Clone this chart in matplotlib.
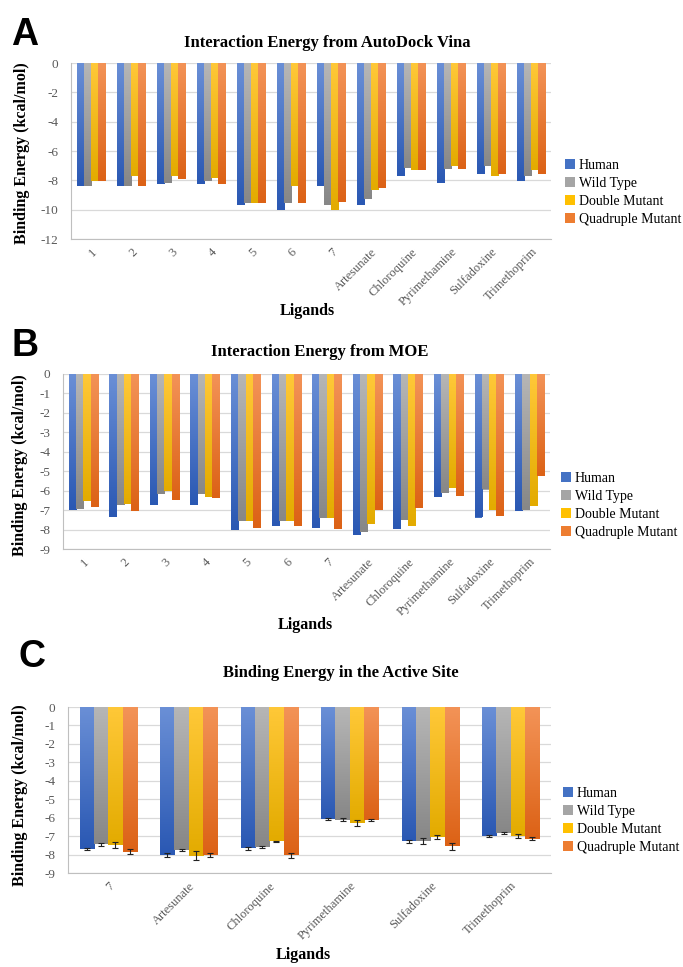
import numpy as np
import matplotlib
matplotlib.use("Agg")
import matplotlib.pyplot as plt
from matplotlib.colors import LinearSegmentedColormap

# ---- data ----
series = ["Human", "Wild Type", "Double Mutant", "Quadruple Mutant"]

ligands_ab = ["1", "2", "3", "4", "5", "6", "7", "Artesunate", "Chloroquine",
              "Pyrimethamine", "Sulfadoxine", "Trimethoprim"]

vina_human = [-8.41, -8.41, -8.25, -8.25, -9.66, -10.05, -8.36, -9.66, -7.68, -8.16, -7.55, -8.02]
vina_wild = [-8.36, -8.36, -8.16, -8.02, -9.52, -9.52, -9.66, -9.25, -7.14, -7.23, -7.05, -7.68]
vina_double = [-8.02, -7.68, -7.73, -7.86, -9.52, -8.36, -10.05, -8.64, -7.32, -7.00, -7.68, -7.32]
vina_quad = [-8.02, -8.41, -7.93, -8.25, -9.52, -9.52, -9.45, -8.55, -7.32, -7.23, -7.55, -7.55]

moe_human = [-6.97, -7.35, -6.73, -6.73, -8.03, -7.84, -7.93, -8.27, -7.95, -6.32, -7.38, -7.05]
moe_wild = [-6.93, -6.76, -6.16, -6.16, -7.55, -7.55, -7.40, -8.12, -7.52, -6.13, -5.94, -7.00]
moe_double = [-6.54, -6.70, -6.04, -6.34, -7.55, -7.55, -7.40, -7.71, -7.84, -5.84, -6.99, -6.78]
moe_quad = [-6.85, -7.04, -6.47, -6.40, -7.91, -7.81, -7.98, -6.97, -6.87, -6.28, -7.31, -5.24]

ligands_c = ["7", "Artesunate", "Chloroquine", "Pyrimethamine", "Sulfadoxine", "Trimethoprim"]
site_human = [-7.70, -8.01, -7.67, -6.05, -7.29, -7.00]
site_wild = [-7.45, -7.74, -7.60, -6.11, -7.26, -6.84]
site_double = [-7.49, -8.06, -7.29, -6.28, -7.04, -6.99]
site_quad = [-7.85, -8.03, -8.05, -6.13, -7.56, -7.13]
site_human_err = [0.08, 0.10, 0.10, 0.05, 0.10, 0.05]
site_wild_err = [0.08, 0.05, 0.06, 0.07, 0.15, 0.05]
site_double_err = [0.15, 0.25, 0.05, 0.15, 0.12, 0.12]
site_quad_err = [0.13, 0.10, 0.15, 0.07, 0.20, 0.07]

# light (top) -> dark (bottom) gradients, Excel style
grads = [("#6a8fd6", "#2a58b3"),
         ("#b6b6b6", "#878787"),
         ("#ffc838", "#e3ab00"),
         ("#f39357", "#dc6216")]
solid = ["#4472C4", "#A5A5A5", "#FFC000", "#ED7D31"]

SERIF = "Liberation Serif"
TICKC = "#595959"
GRIDC = "#d9d9d9"

W, H = 683, 967
fig = plt.figure(figsize=(W / 100, H / 100), dpi=100)


def px_axes(l, t, r, b):
    return fig.add_axes([l / W, (H - b) / H, (r - l) / W, (b - t) / H])


def draw_panel(ax, cats, vals, ymin, ystep, group_w, errs=None):
    n = len(cats)
    x = np.arange(n)
    bw = group_w / 4
    for i, v in enumerate(vals):
        xs = x - group_w / 2 + bw * (i + 0.5)
        bars = ax.bar(xs, v, bw, color=solid[i], edgecolor="none", zorder=2,
                      label=series[i])
        cmap = LinearSegmentedColormap.from_list("g%d" % i, grads[i])
        for b in bars:
            x0 = b.get_x()
            h = b.get_height()
            im = ax.imshow(np.linspace(0, 1, 64).reshape(-1, 1), cmap=cmap,
                           extent=[x0, x0 + bw, h, 0], origin="upper",
                           aspect="auto", zorder=2.5, interpolation="bilinear")
            im.set_clip_path(b)
        if errs is not None:
            ax.errorbar(xs, v, yerr=errs[i], fmt="none", ecolor="#222222",
                        elinewidth=0.8, capsize=2, capthick=0.8, zorder=4)
    ax.set_xlim(-0.5, n - 0.5)
    ax.set_ylim(ymin, 0)
    ticks = np.arange(0, ymin - 0.01, -ystep)
    ax.set_yticks(ticks)
    ax.set_yticklabels(["%d" % t for t in ticks])
    ax.set_xticks(x)
    ax.set_xticklabels(cats, rotation=45, ha="right", rotation_mode="anchor")
    ax.grid(axis="y", color=GRIDC, linewidth=0.9, zorder=0)
    ax.set_axisbelow(True)
    for s in ["top", "right"]:
        ax.spines[s].set_visible(False)
    ax.spines["left"].set_color("#bfbfbf")
    ax.spines["bottom"].set_color("#bfbfbf")
    ax.tick_params(axis="y", length=0, labelsize=9.5, labelcolor=TICKC, pad=9)
    ax.tick_params(axis="x", length=0, labelsize=9, labelcolor=TICKC, pad=5)
    for lab in ax.get_xticklabels() + ax.get_yticklabels():
        lab.set_family(SERIF)


def legend_for(ax, x, y):
    hs, ls = ax.get_legend_handles_labels()
    fig.legend(hs, ls, loc="upper left", bbox_to_anchor=(x / W, 1 - y / H),
               frameon=False, prop={"family": SERIF, "size": 10},
               handlelength=0.7, handleheight=0.7, handletextpad=0.3,
               labelspacing=0.36, borderaxespad=0, borderpad=0)


def labels(title, tx, ty, ly, yy, lx, ligy, letter, letx, lety):
    fig.text(tx / W, 1 - ty / H, title, ha="center", va="center", family=SERIF,
             weight="bold", size=12)
    fig.text(lx / W, 1 - yy / H, "Binding Energy (kcal/mol)", rotation=90,
             ha="center", va="center", family=SERIF, weight="bold", size=11.5)
    fig.text(ly / W, 1 - ligy / H, "Ligands", ha="center", va="center",
             family=SERIF, weight="bold", size=11.5)
    fig.text(letx / W, 1 - lety / H, letter, ha="left", va="baseline",
             family="Liberation Sans", weight="bold", size=27)


# ---- panel A ----
axA = px_axes(71, 63, 551, 239)
draw_panel(axA, ligands_ab, [vina_human, vina_wild, vina_double, vina_quad], -12, 2, 0.72)
legend_for(axA, 565, 159)
labels("Interaction Energy from AutoDock Vina", 327, 43, 307, 153, 22, 311, "A", 11, 45)

# ---- panel B ----
axB = px_axes(63, 374, 550, 549)
draw_panel(axB, ligands_ab, [moe_human, moe_wild, moe_double, moe_quad], -9, 1, 0.72)
legend_for(axB, 561, 472)
labels("Interaction Energy from MOE", 320, 352, 305, 465, 20, 625, "B", 11, 356)

# ---- panel C ----
axC = px_axes(68, 707, 551, 873)
draw_panel(axC, ligands_c, [site_human, site_wild, site_double, site_quad], -9, 1, 0.71,
           errs=[site_human_err, site_wild_err, site_double_err, site_quad_err])
legend_for(axC, 563, 787)
labels("Binding Energy in the Active Site", 341, 673, 303, 795, 20, 955, "C", 19, 667)

fig.savefig("out.png", dpi=100)
